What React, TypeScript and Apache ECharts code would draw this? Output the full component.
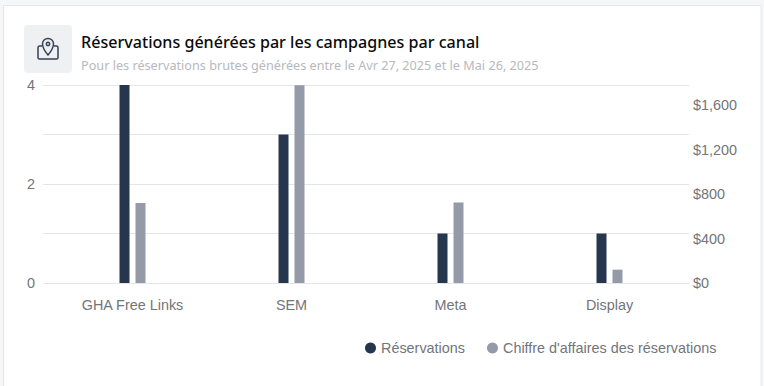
import React, { useEffect, useRef } from "react";
import * as echarts from "echarts";

const categories = ["GHA Free Links", "SEM", "Meta", "Display"];
const bookings = [4, 3, 1, 1];
const revenue = [720, 1780, 725, 120];
const leftLabels = [0, 2, 4];
const rightLabels = [0, 400, 800, 1200, 1600];
const seriesNames = ["Réservations", "Chiffre d'affaires des réservations"];
const title = "Réservations générées par les campagnes par canal";
const subtitle = "Pour les réservations brutes générées entre le Avr 27, 2025 et le Mai 26, 2025";

echarts.graphic.registerShape(
  "pinIcon",
  echarts.graphic.extendPath(
    "M12 2.5C8.9 2.5 6.5 4.9 6.5 7.9C6.5 11.1 9.6 16.1 12 19C14.4 16.1 17.5 11.1 17.5 7.9C17.5 4.9 15.1 2.5 12 2.5ZM12 6.2A1.7 1.7 0 1 0 12.01 6.2ZM6 10H3.5C2.7 10 2 10.7 2 11.5V21.5C2 22.3 2.7 23 3.5 23H20.5C21.3 23 22 22.3 22 21.5V11.5C22 10.7 21.3 10 20.5 10H18",
    {}
  )
);

const GREY = "#727579";
const LINE = "#e3e5e8";
const AXIS_FONT = 14.4;

export default function App() {
  const ref = useRef<HTMLDivElement>(null);
  useEffect(() => {
    const chart = echarts.init(ref.current!, undefined, { renderer: "svg" });
    chart.setOption({
      animation: false,
      backgroundColor: "#f5f6f8",
      textStyle: { fontFamily: "Liberation Sans" },
      grid: { left: 53, right: 75, top: 85, bottom: 103, containLabel: false },
      legend: {
        left: 360,
        top: 336,
        icon: "circle",
        itemWidth: 11,
        itemHeight: 11,
        itemGap: 22,
        selectedMode: false,
        textStyle: { color: GREY, fontSize: AXIS_FONT, fontFamily: "Liberation Sans" },
        data: seriesNames,
      },
      xAxis: {
        type: "category",
        data: categories,
        axisLine: { show: false },
        axisTick: { show: false },
        axisLabel: { color: GREY, fontSize: AXIS_FONT, margin: 15 },
      },
      yAxis: [
        {
          type: "value",
          min: 0,
          max: 4,
          interval: 1,
          axisLine: { show: false },
          axisTick: { show: true, length: 10, lineStyle: { color: LINE } },
          axisLabel: { color: GREY, fontSize: AXIS_FONT, margin: 18, customValues: leftLabels },
          splitLine: { show: true, lineStyle: { color: LINE } },
        },
        {
          type: "value",
          position: "right",
          min: 0,
          max: 1783,
          interval: 400,
          axisLine: { show: false },
          axisTick: { show: false },
          axisLabel: {
            color: GREY,
            fontSize: AXIS_FONT,
            margin: 4,
            customValues: rightLabels,
            formatter: (v: number) => "$" + v.toLocaleString("en-US"),
          },
          splitLine: { show: false },
        },
      ],
      series: [
        {
          name: seriesNames[0],
          type: "bar",
          yAxisIndex: 0,
          data: bookings,
          barWidth: 10,
          barGap: "60%",
          itemStyle: { color: "#26364f" },
        },
        {
          name: seriesNames[1],
          type: "bar",
          yAxisIndex: 1,
          data: revenue,
          barWidth: 10,
          itemStyle: { color: "#949aa8" },
        },
      ],
      graphic: [
        {
          type: "rect",
          z: -1,
          silent: true,
          shape: { x: 3.5, y: 5.5, width: 757.5, height: 385 },
          style: { fill: "#ffffff", stroke: "#e5e7ea", lineWidth: 1 },
        },
        {
          type: "rect",
          silent: true,
          shape: { x: 24, y: 25, width: 48, height: 48, r: 4 },
          style: { fill: "#eff0f2" },
        },
        {
          type: "pinIcon",
          x: 36,
          y: 36,
          silent: true,
          style: { fill: "none", stroke: "#354259", lineWidth: 1.5 },
        },
        {
          type: "text",
          x: 81,
          y: 42,
          silent: true,
          style: {
            text: title,
            fill: "#0b0b0c",
            font: '500 16.1px "Noto Sans"',
            verticalAlign: "middle",
          },
        },
        {
          type: "text",
          x: 81,
          y: 65,
          silent: true,
          style: {
            text: subtitle,
            fill: "#b6b9be",
            font: '12.66px "Noto Sans"',
            verticalAlign: "middle",
          },
        },
      ],
    });
    return () => chart.dispose();
  }, []);
  return <div ref={ref} style={{ position: "absolute", left: 0, top: 0, width: 764, height: 386 }} />;
}
